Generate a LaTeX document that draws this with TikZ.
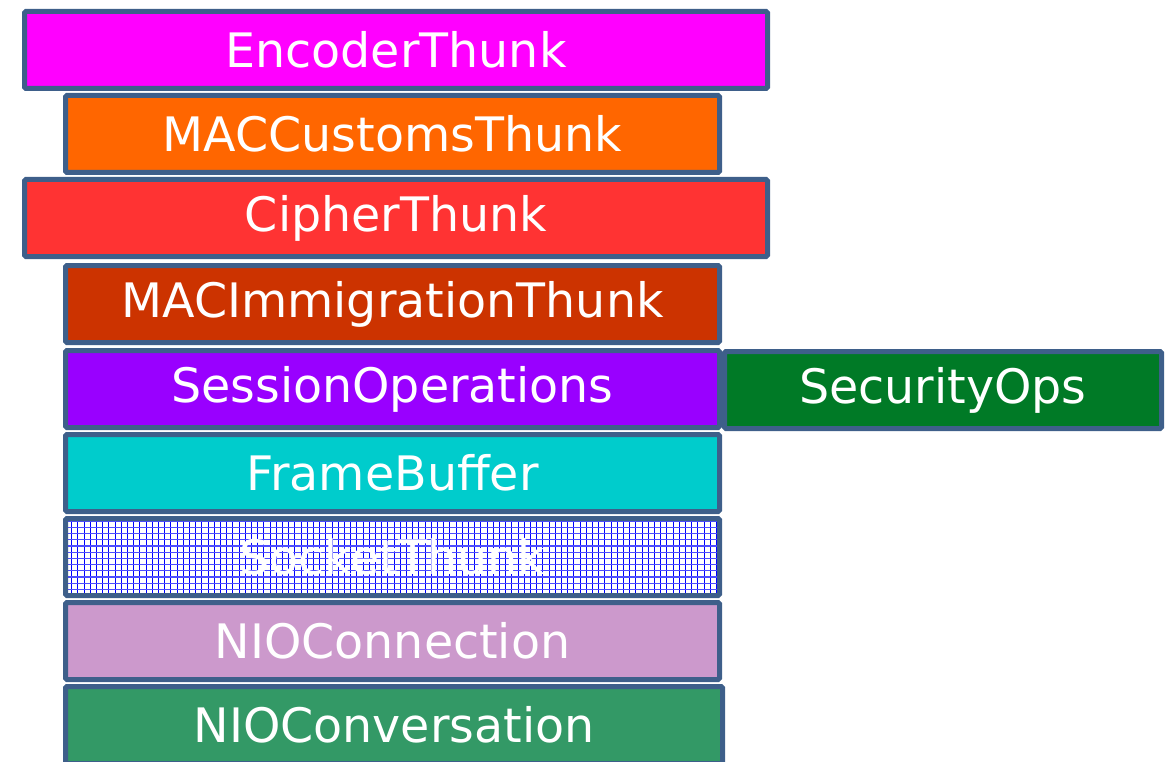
\documentclass[tikz,border=0pt]{standalone}
\usepackage{fontspec}
\setmainfont{DejaVu Sans}
\begin{document}
\begin{tikzpicture}[x=1pt,y=-1pt,
  layer/.style={draw=borderblue, line width=5pt, rounded corners=1.5pt, text=white,
    minimum height=77pt, inner sep=0pt, font=\fontsize{47.5}{50}\selectfont},
  wide/.style={layer, minimum width=743pt},
  narrow/.style={layer, minimum width=654pt},
  gridline/.style={blue, line width=0.9pt}
]
\definecolor{borderblue}{RGB}{62,95,138}
\definecolor{cEnc}{RGB}{255,0,255}
\definecolor{cMacC}{RGB}{255,102,0}
\definecolor{cCiph}{RGB}{255,51,51}
\definecolor{cMacI}{RGB}{204,51,0}
\definecolor{cSess}{RGB}{153,0,255}
\definecolor{cSec}{RGB}{0,122,38}
\definecolor{cFrame}{RGB}{0,204,204}
\definecolor{cConn}{RGB}{204,153,204}
\definecolor{cConv}{RGB}{51,153,102}
\useasboundingbox (0,0) rectangle (1167,762);
\node[wide, fill=cEnc] (enc) at (396,50) {EncoderThunk};
\node[narrow, fill=cMacC] (macc) at (392.5,134) {MACCustomsThunk};
\node[wide, fill=cCiph] (ciph) at (396,218) {CipherThunk};
\node[narrow, fill=cMacI] (maci) at (392.5,304) {MACImmigrationThunk};
\node[narrow, fill=cSess] (sess) at (392.5,389) {SessionOperations};
\node[layer, minimum width=437pt, fill=cSec] (sec) at (943,390) {SecurityOps};
\node[narrow, fill=cFrame] (frame) at (392.5,473) {FrameBuffer};
\node[narrow, fill=white, path picture={
    \foreach \i in {0,...,106}
      \draw[gridline] ([xshift=\i*6.2pt]path picture bounding box.south west) -- ([xshift=\i*6.2pt]path picture bounding box.north west);
    \foreach \j in {0,...,13}
      \draw[gridline, blue!70, line width=1.2pt] ([yshift=\j*6.2pt]path picture bounding box.south west) -- ([yshift=\j*6.2pt]path picture bounding box.south east);
  }] (sock) at (392.5,557) {SocketThunk};
\node[narrow, fill=cConn] (conn) at (392.5,641) {NIOConnection};
\node[layer, minimum width=657pt, fill=cConv] (conv) at (394,725) {NIOConversation};
\end{tikzpicture}
\end{document}
